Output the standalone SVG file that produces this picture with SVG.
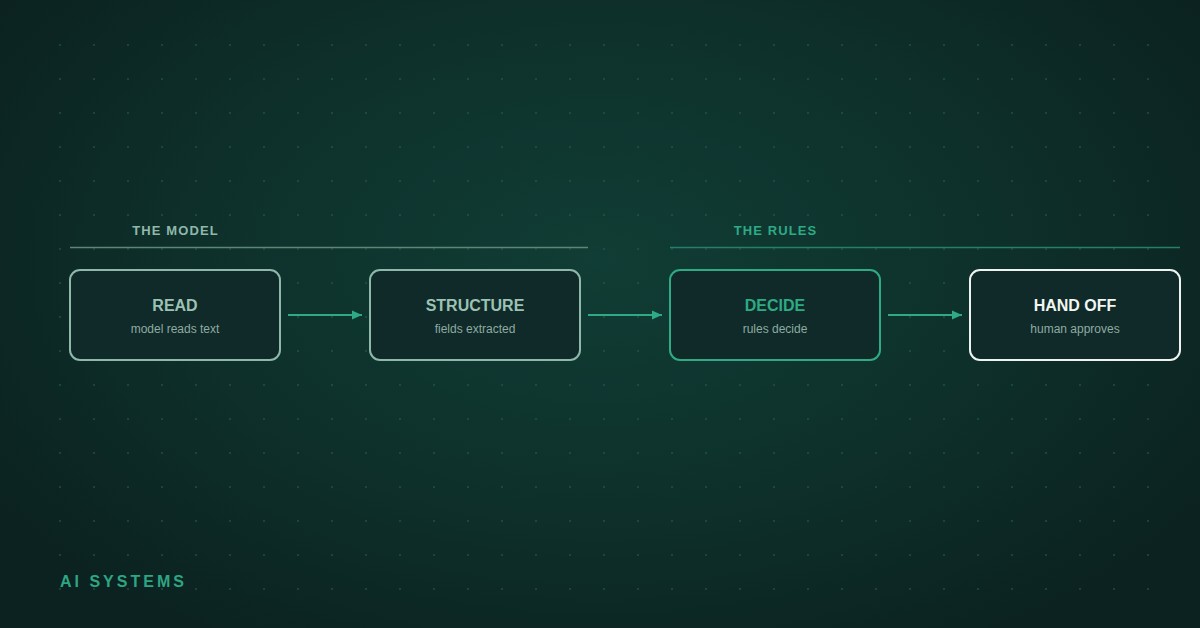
<svg xmlns="http://www.w3.org/2000/svg" width="1200" height="628" viewBox="0 0 1200 628">
  <defs>
    <radialGradient id="bg" cx="600" cy="260" r="720" gradientUnits="userSpaceOnUse" gradientTransform="translate(600 260) scale(1 0.62) translate(-600 -260)">
      <stop offset="0" stop-color="#103d35"/>
      <stop offset="0.55" stop-color="#0e302b"/>
      <stop offset="1" stop-color="#0b2220"/>
    </radialGradient>
    <pattern id="dots" x="43" y="28" width="34" height="34" patternUnits="userSpaceOnUse">
      <circle cx="17" cy="17" r="1" fill="#2c5a4e" fill-opacity="0.7"/>
    </pattern>
    <marker id="arrow" viewBox="0 0 10 10" refX="10" refY="5" markerWidth="10" markerHeight="10" markerUnits="userSpaceOnUse" orient="auto">
      <path d="M0,0.5 L10,5 L0,9.5 Z" fill="#2eaa85"/>
    </marker>
    <style>
      .box { fill: #0f2a28; stroke-width: 2; }
      .title { font-family: "Liberation Sans", Arial, sans-serif; font-size: 16px; font-weight: bold; text-anchor: middle; }
      .sub { font-family: "Liberation Sans", Arial, sans-serif; font-size: 12px; fill: #8eaaa1; text-anchor: middle; }
      .section { font-family: "Liberation Sans", Arial, sans-serif; font-size: 13px; font-weight: bold; letter-spacing: 1.1px; text-anchor: middle; }
      .conn { stroke: #2eaa85; stroke-width: 2; fill: none; }
    </style>
  </defs>
  <rect width="1200" height="628" fill="url(#bg)"/>
  <rect x="43" y="28" width="1122" height="578" fill="url(#dots)"/>

  <g id="section-model">
    <text class="section" x="175.5" y="235" fill="#8fb8aa">THE MODEL</text>
    <line x1="70" y1="247.5" x2="588" y2="247.5" stroke="#5d8677" stroke-width="1.5"/>
  </g>
  <g id="section-rules">
    <text class="section" x="775.5" y="235" fill="#2eaa85">THE RULES</text>
    <line x1="670" y1="247.5" x2="1180" y2="247.5" stroke="#267f66" stroke-width="1.5"/>
  </g>

  <g id="node-read">
    <rect class="box" x="70" y="270" width="210" height="90" rx="10" stroke="#8fb8aa"/>
    <text class="title" x="175" y="311" fill="#9cc2b4">READ</text>
    <text class="sub" x="175" y="333">model reads text</text>
  </g>
  <g id="node-structure">
    <rect class="box" x="370" y="270" width="210" height="90" rx="10" stroke="#8fb8aa"/>
    <text class="title" x="475" y="311" fill="#9cc2b4">STRUCTURE</text>
    <text class="sub" x="475" y="333">fields extracted</text>
  </g>
  <g id="node-decide">
    <rect class="box" x="670" y="270" width="210" height="90" rx="10" stroke="#2eaa85"/>
    <text class="title" x="775" y="311" fill="#2eaa85">DECIDE</text>
    <text class="sub" x="775" y="333">rules decide</text>
  </g>
  <g id="node-handoff">
    <rect class="box" x="970" y="270" width="210" height="90" rx="10" stroke="#eef3f0"/>
    <text class="title" x="1075" y="311" fill="#f2f6f3">HAND OFF</text>
    <text class="sub" x="1075" y="333">human approves</text>
  </g>

  <g id="connectors">
    <line class="conn" x1="288" y1="315" x2="362" y2="315" marker-end="url(#arrow)"/>
    <line class="conn" x1="588" y1="315" x2="662" y2="315" marker-end="url(#arrow)"/>
    <line class="conn" x1="888" y1="315" x2="962" y2="315" marker-end="url(#arrow)"/>
  </g>

  <text x="60" y="587" font-family="Liberation Sans, Arial, sans-serif" font-size="16" font-weight="bold" letter-spacing="3" fill="#2ea583">AI SYSTEMS</text>
</svg>
